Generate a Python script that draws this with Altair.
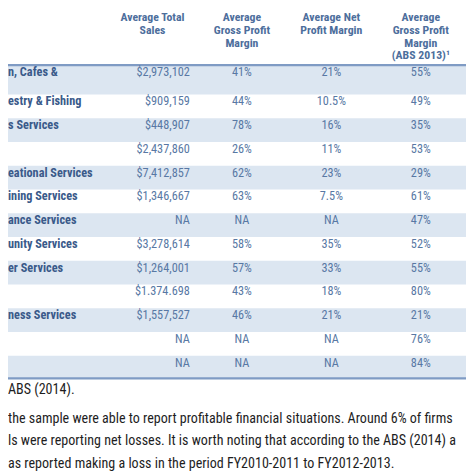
import altair as alt
import pandas as pd

# ---------------- data ----------------
row_labels = ["n, Cafes &", "estry & Fishing", "s Services", "", "eational Services",
              "ining Services", "ance Services", "unity Services", "er Services", "",
              "ness Services", "", ""]
sales = ["$2,973,102", "$909,159", "$448,907", "$2,437,860", "$7,412,857", "$1,346,667",
         "NA", "$3,278,614", "$1,264,001", "$1.374.698", "$1,557,527", "NA", "NA"]
gross_margin = ["41%", "44%", "78%", "26%", "62%", "63%", "NA", "58%", "57%", "43%", "46%", "NA", "NA"]
net_margin = ["21%", "10.5%", "16%", "11%", "23%", "7.5%", "NA", "35%", "33%", "18%", "21%", "NA", "NA"]
abs_margin = ["55%", "49%", "35%", "53%", "29%", "61%", "47%", "52%", "55%", "80%", "21%", "76%", "84%"]

col_keys = ["sales", "gross", "net", "abs"]
headers = [["Average Total", "Sales"],
           ["Average", "Gross Profit", "Margin"],
           ["Average Net", "Profit Margin"],
           ["Average", "Gross Profit", "Margin", "(ABS 2013)\u00b9"]]

source_note = "ABS (2014)."
paragraph = ["the sample were able to report profitable financial situations. Around 6% of firms",
             "ls were reporting net losses. It is worth noting that according to the ABS (2014) a",
             "as reported making a loss in the period FY2010-2011 to FY2012-2013."]

# ---------------- layout (kept apart from the data) ----------------
COL_X = {"label": 8, "sales": 193, "gross": 246, "net": 337, "abs": 428}   # reference px
HEAD_X = {"sales": 155, "gross": 246, "net": 337, "abs": 428}
LEFT_X = 8
FIRST_ROW_TOP = -0.74      # taller first (two-line) row, in row units
LAST_ROW_BOTTOM = 12.45
HEADER_TOP = -2.97
NOTE_Y = 12.95
PARA_Y0 = 14.15
PARA_STEP = 0.95

FONT = "Liberation Sans Narrow, Roboto Condensed, Liberation Sans"
HEAD_C = "#4d6e9c"
LABEL_C = "#3a5a8a"
VAL_C = "#5878a4"
BAND_C = "#dce6f1"
RULE_C = "#7f9bc4"
BODY_C = "#1e1e1e"

W, H = 466, 466
xs = alt.Scale(domain=[8, 474], nice=False, zero=False)
ys = alt.Scale(domain=[-2.975, 16.305], nice=False, zero=False, reverse=True)

# ---------------- tables ----------------
n = len(row_labels)
rows = pd.DataFrame({
    "row": list(range(n)),
    "top": [FIRST_ROW_TOP if i == 0 else i - 0.5 for i in range(n)],
    "bottom": [LAST_ROW_BOTTOM if i == n - 1 else i + 0.5 for i in range(n)],
})
bands = rows[rows["row"] % 2 == 0]

cells = []
for i in range(n):
    top = rows.loc[i, "top"]
    cells.append({"row": i, "col": "label", "text": row_labels[i], "x": COL_X["label"], "top": top})
    for key, arr in zip(col_keys, [sales, gross_margin, net_margin, abs_margin]):
        cells.append({"row": i, "col": key, "text": arr[i], "x": COL_X[key], "top": top})
cells = pd.DataFrame(cells)

head = pd.DataFrame({"col": col_keys,
                     "text": ["\n".join(h) for h in headers],
                     "x": [HEAD_X[k] for k in col_keys],
                     "y": [HEADER_TOP] * len(col_keys)})

rules = pd.DataFrame({"y": [FIRST_ROW_TOP, LAST_ROW_BOTTOM]})

para = pd.DataFrame({"text": [source_note] + paragraph,
                     "x": [LEFT_X] * (1 + len(paragraph)),
                     "y": [NOTE_Y] + [PARA_Y0 + k * PARA_STEP for k in range(len(paragraph))]})

X = lambda f: alt.X(f, type="quantitative", scale=xs, axis=None)
Y = lambda f: alt.Y(f, type="quantitative", scale=ys, axis=None)

band_layer = alt.Chart(bands).mark_rect(color=BAND_C).encode(y=Y("top"), y2="bottom")
rule_layer = alt.Chart(rules).mark_rule(color=RULE_C, strokeWidth=2.2).encode(y=Y("y"))

label_layer = alt.Chart(cells[cells["col"] == "label"]).mark_text(
    align="left", baseline="middle", dy=7, font=FONT, fontSize=12.5, fontWeight="bold", color=LABEL_C
).encode(x=X("x"), y=Y("top"), text="text:N")

sales_layer = alt.Chart(cells[cells["col"] == "sales"]).mark_text(
    align="right", baseline="middle", dy=7, font=FONT, fontSize=12.5, color=VAL_C
).encode(x=X("x"), y=Y("top"), text="text:N")

pct_layer = alt.Chart(cells[cells["col"].isin(["gross", "net", "abs"])]).mark_text(
    align="center", baseline="middle", dy=7, font=FONT, fontSize=12.5, color=VAL_C
).encode(x=X("x"), y=Y("top"), text="text:N")

head_layer = alt.Chart(head).mark_text(
    align="center", baseline="top", lineBreak="\n", lineHeight=13, font=FONT, fontSize=12,
    fontWeight="bold", color=HEAD_C
).encode(x=X("x"), y=Y("y"), text="text:N")

para_layer = alt.Chart(para).mark_text(
    align="left", baseline="middle", font=FONT, fontSize=14.3, color=BODY_C
).encode(x=X("x"), y=Y("y"), text="text:N")

chart = alt.layer(band_layer, rule_layer, label_layer, sales_layer, pct_layer, head_layer, para_layer).properties(
    width=W, height=H, padding=0, autosize=alt.AutoSizeParams(type="none")
).configure_view(stroke=None)

chart.save("out.html", embed_options={"renderer": "svg", "actions": False})
